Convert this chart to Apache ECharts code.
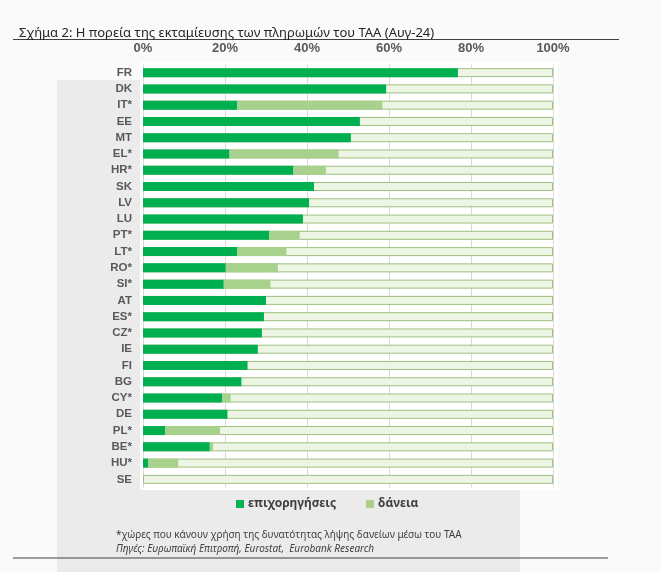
<!DOCTYPE html>
<html>
<head>
<meta charset="utf-8">
<script src="https://cdn.jsdelivr.net/npm/echarts@6/dist/echarts.min.js"></script>
<style>
html,body{margin:0;padding:0;background:#fafafa;}
#chart{width:661px;height:572px;}
</style>
</head>
<body>
<div id="chart"></div>
<script>
var countries = ['FR','DK','IT*','EE','MT','EL*','HR*','SK','LV','LU','PT*','LT*','RO*','SI*','AT','ES*','CZ*','IE','FI','BG','CY*','DE','PL*','BE*','HU*','SE'];
var grants = [76.8,59.3,23.0,52.9,50.7,21.1,36.7,41.7,40.5,39.0,30.8,23.0,20.2,19.7,30.0,29.5,29.0,28.0,25.5,24.0,19.3,20.6,5.4,16.3,1.3,0];
var loans  = [0,0,35.4,0,0,26.6,7.9,0,0,0,7.4,12.0,12.7,11.4,0,0,0,0,0,0,2.1,0,13.4,0.8,7.3,0];
var fullScale = 100;
var xTicks = [0,20,40,60,80,100];

var chart = echarts.init(document.getElementById('chart'));
var labelFont = '"Liberation Sans Narrow","Liberation Sans",Arial,sans-serif';
var textFont = '"Noto Sans","DejaVu Sans",sans-serif';
chart.setOption({
  backgroundColor: '#fafafa',
  animation: false,
  title: {
    text: 'Σχήμα 2: Η πορεία της εκταμίευσης των πληρωμών του ΤΑΑ (Αυγ-24)',
    left: 14, top: 22,
    textStyle: {fontFamily: textFont, fontSize: 13, fontWeight: 'normal', color: '#262626'}
  },
  graphic: [
    {type:'rect', z:-10, shape:{x:57,y:80,width:463,height:492}, style:{fill:'#ebebeb'}},
    {type:'rect', z:-9, shape:{x:140,y:62,width:418,height:428}, style:{fill:'#ffffff'}},
    {type:'line', z:5, shape:{x1:13,y1:39.5,x2:619,y2:39.5}, style:{stroke:'#404040',lineWidth:1.2}},
    {type:'line', z:5, shape:{x1:13,y1:558,x2:608,y2:558}, style:{stroke:'#404040',lineWidth:1.2}},
    {type:'text', z:5, left:116, top:530, style:{text:'*χώρες που κάνουν χρήση της δυνατότητας λήψης δανείων μέσω του ΤΑΑ', font:'10px "Noto Sans", sans-serif', fill:'#404040'}},
    {type:'text', z:5, left:116, top:544, style:{text:'Πηγές: Ευρωπαϊκή Επιτροπή, Eurostat,  Eurobank Research', font:'italic 10px "Noto Sans", sans-serif', fill:'#404040'}}
  ],
  legend: {
    data: ['επιχορηγήσεις','δάνεια'],
    left: 231, top: 493,
    icon: 'rect', itemWidth: 8, itemHeight: 8, itemGap: 30,
    textStyle: {fontFamily: textFont, fontSize: 12, fontWeight: 'bold', color: '#404040', padding:[0,0,0,-1]}
  },
  grid: {left: 143, right: 108, top: 64.5, bottom: 84.5, containLabel: false},
  xAxis: {
    type: 'value', position: 'top', min: 0, max: 100, interval: 20,
    axisLine: {show: false}, axisTick: {show: false},
    axisLabel: {formatter: '{value}%', margin: 10, fontFamily: labelFont, fontSize: 13, fontWeight: 'bold', color: '#595959'},
    splitLine: {show: true, lineStyle: {color: '#d9d9d9', width: 1}}
  },
  yAxis: {
    type: 'category', inverse: true, data: countries,
    axisLine: {show: false}, axisTick: {show: false},
    axisLabel: {margin: 11, fontFamily: labelFont, fontSize: 11.5, fontWeight: 'bold', color: '#595959'}
  },
  series: [
    {name:'bg', type:'bar', data: countries.map(function(){return fullScale;}), barWidth: 9, silent: true,
     itemStyle:{color:'#edf6e4', borderColor:'#9fbf7f', borderWidth:1}},
    {name:'επιχορηγήσεις', type:'bar', stack:'s', data: grants, barWidth: 9, barGap:'-100%',
     itemStyle:{color:'#00b050'}},
    {name:'δάνεια', type:'bar', stack:'s', data: loans, barWidth: 9, barGap:'-100%',
     itemStyle:{color:'#a9d18e'}}
  ]
});
</script>
</body>
</html>
